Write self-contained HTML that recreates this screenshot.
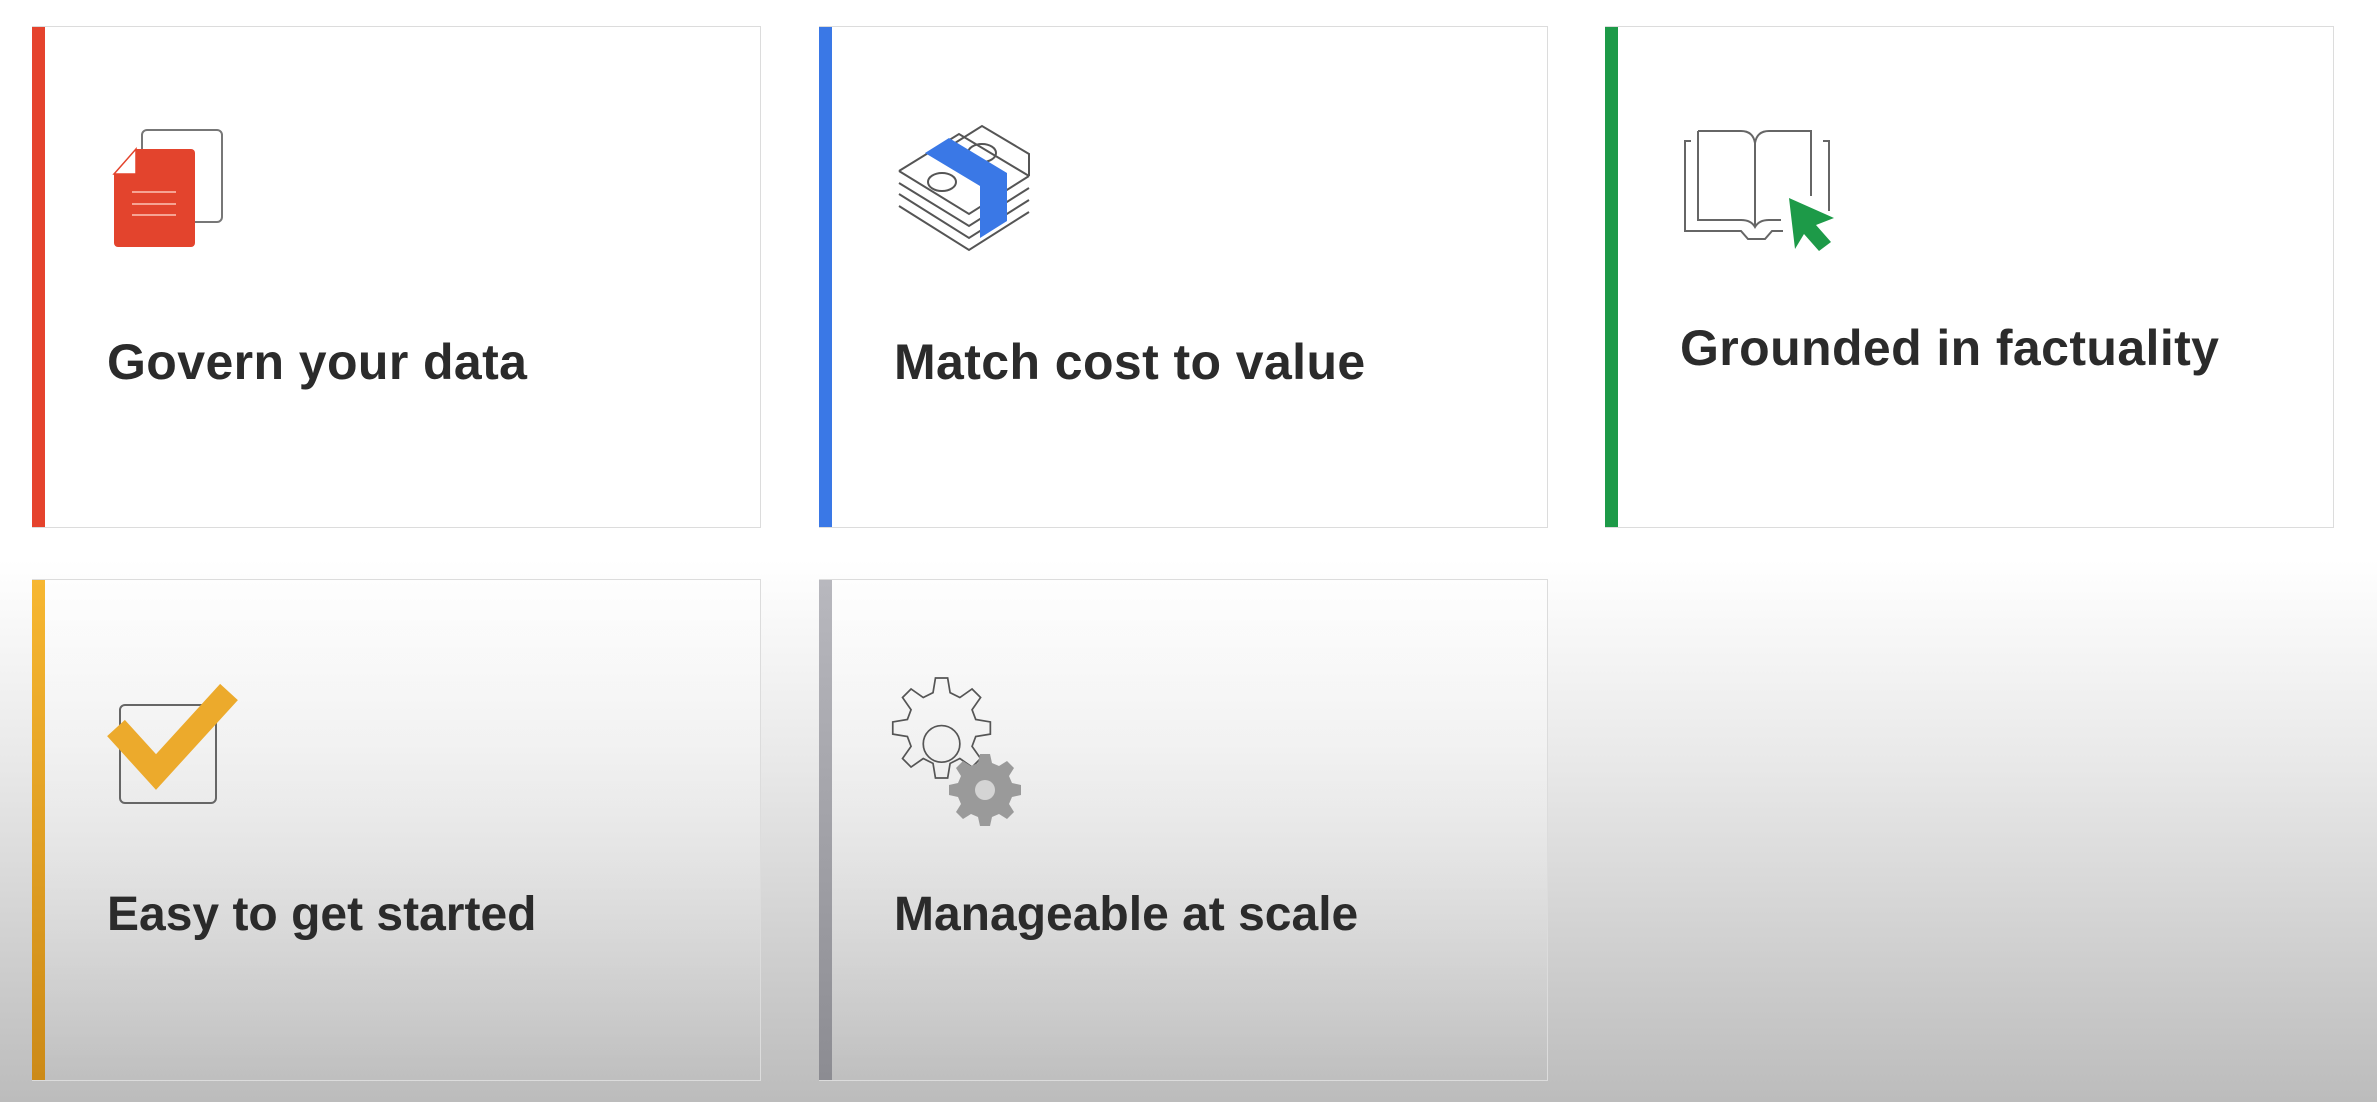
<!DOCTYPE html>
<html><head><meta charset="utf-8"><style>
html,body{margin:0;padding:0}
body{width:2377px;height:1102px;position:relative;overflow:hidden;font-family:"Liberation Sans",sans-serif;
background:linear-gradient(to bottom,#ffffff 0px,#ffffff 560px,#e9e9e9 760px,#c9c9c9 1000px,#bcbcbc 1102px)}
.card{position:absolute;width:729px;height:502px;box-sizing:border-box;border:1.5px solid #dcdcdc;border-left:none}
.bar{position:absolute;left:0;top:0;width:13px;height:100%}
.t{position:absolute;left:75px;font-weight:bold;font-size:50px;color:#2b2b2b;white-space:nowrap;letter-spacing:0.4px}
.r2{font-size:48px;letter-spacing:0}
svg{position:absolute;overflow:visible}
</style></head><body>

<div class="card" style="left:32px;top:26px;background:#fff">
 <div class="bar" style="background:#e5432d"></div>
 <svg style="left:82px;top:103px" width="110" height="120" viewBox="0 0 110 120">
  <rect x="28" y="0" width="80" height="92" rx="5" fill="none" stroke="#777" stroke-width="2"/>
  <path d="M22 19 H77 a4 4 0 0 1 4 4 V113 a4 4 0 0 1 -4 4 H4 a4 4 0 0 1 -4 -4 V44 Z" fill="#e3442d"/>
  <path d="M0 44 L22 19 L22 44 Z" fill="#fff" stroke="#e3442d" stroke-width="1.5"/>
  <line x1="18" y1="62" x2="62" y2="62" stroke="#f6a393" stroke-width="2"/>
  <line x1="18" y1="74" x2="62" y2="74" stroke="#f6a393" stroke-width="2"/>
  <line x1="18" y1="85" x2="62" y2="85" stroke="#f6a393" stroke-width="2"/>
 </svg>
 <div class="t" style="top:306px">Govern your data</div>
</div>

<div class="card" style="left:819px;top:26px;background:#fff">
 <div class="bar" style="background:#3a78e6"></div>
 <svg style="left:78px;top:99px" width="135" height="128" viewBox="0 0 135 128" fill="none" stroke="#555" stroke-width="2">
  <path d="M2 57 L72 100 L132 62"/><path d="M2 68 L72 112 L132 74"/><path d="M2 80 L72 124 L132 86"/>
  <path d="M2 45 L72 88 L132 50"/>
  <path d="M2 45 L62 8 L132 50"/><path d="M50 22 L85 0 L132 28 L132 50"/>
  <ellipse cx="45" cy="56" rx="14" ry="9"/><ellipse cx="85" cy="27" rx="14" ry="9"/>
  <path d="M28 27 L52 12 L110 47 L110 95 L83 112 L83 60 Z" fill="#3a78e6" stroke="none"/>
 </svg>
 <div class="t" style="top:306px">Match cost to value</div>
</div>

<div class="card" style="left:1605px;top:26px;background:#fff">
 <div class="bar" style="background:#1d9a48"></div>
 <svg style="left:78px;top:104px" width="155" height="125" viewBox="0 0 155 125" fill="none" stroke="#666" stroke-width="2">
  <path d="M8 10 H2 V100 H58 L65 108 H82 L89 100 H100"/>
  <path d="M140 10 H146 V80"/>
  <path d="M15 0 H58 Q70 0 72 12 Q74 0 86 0 H128 V65"/>
  <path d="M15 0 V89 H58 Q68 89 72 96 Q76 89 86 89 H98"/>
  <path d="M72 12 V96"/>
  <path d="M106 67 L151 87 L133 94 L148 111 L136 120 L121 103 L112 118 Z" fill="#1d9a48" stroke="none"/>
 </svg>
 <div class="t" style="top:292px">Grounded in factuality</div>
</div>

<div class="card" style="left:32px;top:579px;background:linear-gradient(to bottom,rgba(255,255,255,.5),rgba(255,255,255,0))">
 <div class="bar" style="background:linear-gradient(to bottom,#f7b731,#cc8a17)"></div>
 <svg style="left:0;top:0" width="300" height="300" viewBox="0 0 300 300">
  <rect x="88" y="125" width="96" height="98" rx="5" fill="none" stroke="#666" stroke-width="2"/>
  <polyline points="84,148 124,192 197,112" fill="none" stroke="#ecaa2c" stroke-width="24" stroke-linejoin="miter"/>
 </svg>
 <div class="t r2" style="top:307px">Easy to get started</div>
</div>

<div class="card" style="left:819px;top:579px;background:linear-gradient(to bottom,rgba(255,255,255,.5),rgba(255,255,255,0))">
 <div class="bar" style="background:linear-gradient(to bottom,#b8b8be,#8c8c92)"></div>
 <svg style="left:66px;top:98px" width="145" height="145" viewBox="0 0 145 145">
  <g fill="none" stroke="#555" stroke-width="1.4" transform="translate(-2,0) scale(1.22)">
   <path d="M43 0 h10 l2 12 l8 4 l10 -7 l7 7 l-7 10 l3 8 l12 2 v10 l-12 2 l-3 8 l7 10 l-7 7 l-10 -7 l-8 4 l-2 12 h-10 l-2 -12 l-8 -4 l-10 7 l-7 -7 l7 -10 l-3 -8 l-12 -2 v-10 l12 -2 l3 -8 l-7 -10 l7 -7 l10 7 l8 -4 z"/>
   <circle cx="48" cy="54" r="15"/>
  </g>
  <g transform="translate(100,112)">
   <path d="M-5 -36 h10 l2 9 l7 3 l8 -5 l7 7 l-5 8 l3 7 l9 2 v10 l-9 2 l-3 7 l5 8 l-7 7 l-8 -5 l-7 3 l-2 9 h-10 l-2 -9 l-7 -3 l-8 5 l-7 -7 l5 -8 l-3 -7 l-9 -2 v-10 l9 -2 l3 -7 l-5 -8 l7 -7 l8 5 l7 -3 z" fill="#9a9a9a"/>
   <circle cx="0" cy="0" r="10" fill="#d4d4d4"/>
  </g>
 </svg>
 <div class="t r2" style="top:307px">Manageable at scale</div>
</div>

</body></html>
